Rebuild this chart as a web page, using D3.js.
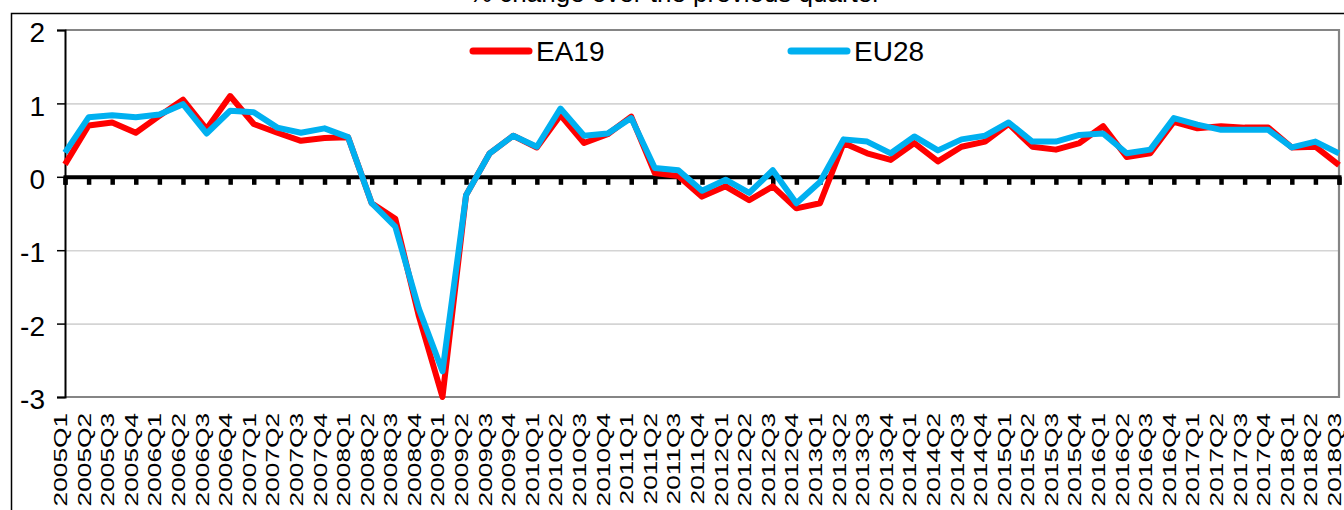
<!DOCTYPE html>
<html>
<head>
<meta charset="utf-8">
<title>GDP growth EA19 / EU28</title>
<script src="https://d3js.org/d3.v7.min.js"></script>
<style>
  body { margin: 0; background: #fff; }
  svg { display: block; font-family: Arial, "Liberation Sans", sans-serif; }
</style>
</head>
<body>
<div id="chart"></div>
<script>

// quarters 2005Q1 .. 2018Q3
var years = d3.range(2005, 2019);
var quarters = [];
years.forEach(function(yr){
  [1,2,3,4].forEach(function(q){
    if (yr == 2018 && q > 3) return;
    quarters.push(yr + "Q" + q);
  });
});

var ea19 = [0.17, 0.70, 0.74, 0.60, 0.83, 1.05, 0.65, 1.10, 0.72, 0.60,
            0.49, 0.53, 0.54, -0.36, -0.57, -1.90, -3.00, -0.25, 0.32, 0.56,
            0.40, 0.84, 0.46, 0.58, 0.82, 0.05, 0.01, -0.27, -0.13, -0.32,
            -0.13, -0.43, -0.36, 0.46, 0.32, 0.23, 0.46, 0.21, 0.41, 0.48,
            0.72, 0.41, 0.37, 0.46, 0.69, 0.27, 0.32, 0.75, 0.66, 0.69,
            0.67, 0.67, 0.40, 0.41, 0.16];

var eu28 = [0.33, 0.81, 0.84, 0.81, 0.85, 0.99, 0.59, 0.90, 0.88, 0.67,
            0.60, 0.66, 0.54, -0.36, -0.68, -1.80, -2.65, -0.25, 0.32, 0.56,
            0.41, 0.93, 0.56, 0.59, 0.80, 0.12, 0.09, -0.19, -0.04, -0.22,
            0.09, -0.36, -0.07, 0.51, 0.48, 0.32, 0.55, 0.36, 0.51, 0.56,
            0.74, 0.48, 0.48, 0.57, 0.59, 0.32, 0.37, 0.80, 0.71, 0.64,
            0.64, 0.64, 0.40, 0.48, 0.32];

var yTicks = [-3, -2, -1, 0, 1, 2];
var gridTicks = [-2, -1, 1];

var W = 1344, H = 510;
var pLeft = 65, pRight = 1339, pTop = 30, pBottom = 397;

var svg = d3.select("#chart").append("svg")
  .attr("width", W).attr("height", H);

// title, mostly cut off at the top
svg.append("text")
  .attr("x", 675).attr("y", 1.5)
  .attr("text-anchor", "middle")
  .attr("font-size", "26px")
  .text("% change over the previous quarter");

// outer frame
svg.append("rect")
  .attr("x", 11.5).attr("y", 13.5)
  .attr("width", 1400).attr("height", 600)
  .attr("fill", "none").attr("stroke", "#000").attr("stroke-width", 1.5);

var x = d3.scalePoint().domain(quarters).range([pLeft, pRight]);
var y = d3.scaleLinear().domain([-3, 2]).range([pBottom, pTop]);

// gridlines
svg.append("g")
  .attr("transform", "translate(" + pLeft + ",0)")
  .call(d3.axisLeft(y).tickValues(gridTicks).tickSize(-(pRight - pLeft)).tickFormat(""))
  .call(function(g){
    g.select(".domain").remove();
    g.selectAll("line").attr("stroke", "#d4d4d4").attr("stroke-width", 1.6);
  });

// plot border (top, right, bottom) in gray
svg.append("path")
  .attr("d", "M" + pLeft + "," + pTop + "H" + pRight + "V" + pBottom + "H" + pLeft)
  .attr("fill", "none").attr("stroke", "#858585").attr("stroke-width", 2.2);

// y axis
svg.append("g")
  .attr("transform", "translate(" + pLeft + ",0)")
  .call(d3.axisLeft(y).tickValues(yTicks).tickSize(8).tickPadding(12).tickFormat(function(d){ return String(d); }))
  .call(function(g){
    g.select(".domain").attr("stroke", "#000").attr("stroke-width", 2);
    g.selectAll("line").attr("stroke", "#000").attr("stroke-width", 1.5);
    g.selectAll("text")
      .attr("font-size", "28px").attr("fill", "#000")
      .attr("font-family", "Arial, 'Liberation Sans', sans-serif")
      .attr("dy", "0.42em");
  });

// zero line with tick marks below
svg.append("g")
  .attr("transform", "translate(0," + y(0) + ")")
  .call(d3.axisBottom(x).tickSize(8).tickFormat(""))
  .call(function(g){
    g.select(".domain").attr("stroke", "#000").attr("stroke-width", 4);
    g.selectAll("line").attr("stroke", "#000").attr("stroke-width", 4.5);
  });

// x labels
svg.append("g")
  .attr("transform", "translate(0," + pBottom + ")")
  .call(d3.axisBottom(x).tickSize(0))
  .call(function(g){
    g.select(".domain").remove();
    g.selectAll("text")
      .attr("font-size", "18.5px").attr("fill", "#000")
      .attr("font-family", "Arial, 'Liberation Sans', sans-serif")
      .attr("text-anchor", "end")
      .attr("dominant-baseline", "central")
      .attr("dy", null)
      .attr("x", 0).attr("y", 0)
      .attr("transform", "translate(-5,16) rotate(-90) scale(1.42,1)");
  });

var line = d3.line()
  .x(function(d, i){ return x(quarters[i]); })
  .y(function(d){ return y(d); });

var series = [
  {name: "EA19", values: ea19, color: "#ff0000", lx: 473, tx: 536},
  {name: "EU28", values: eu28, color: "#00b0f0", lx: 791, tx: 854}
];

svg.selectAll(".series").data(series).enter().append("path")
  .attr("class", "series")
  .attr("d", function(d){ return line(d.values); })
  .attr("fill", "none")
  .attr("stroke", function(d){ return d.color; })
  .attr("stroke-width", 6)
  .attr("stroke-linejoin", "round");

// legend
var leg = svg.selectAll(".legend").data(series).enter().append("g").attr("class", "legend");
leg.append("line")
  .attr("x1", function(d){ return d.lx; }).attr("x2", function(d){ return d.lx + 56; })
  .attr("y1", 51).attr("y2", 51)
  .attr("stroke", function(d){ return d.color; })
  .attr("stroke-width", 7).attr("stroke-linecap", "round");
leg.append("text")
  .attr("x", function(d){ return d.tx; }).attr("y", 61)
  .attr("font-size", "28px")
  .text(function(d){ return d.name; });

</script>
</body>
</html>
